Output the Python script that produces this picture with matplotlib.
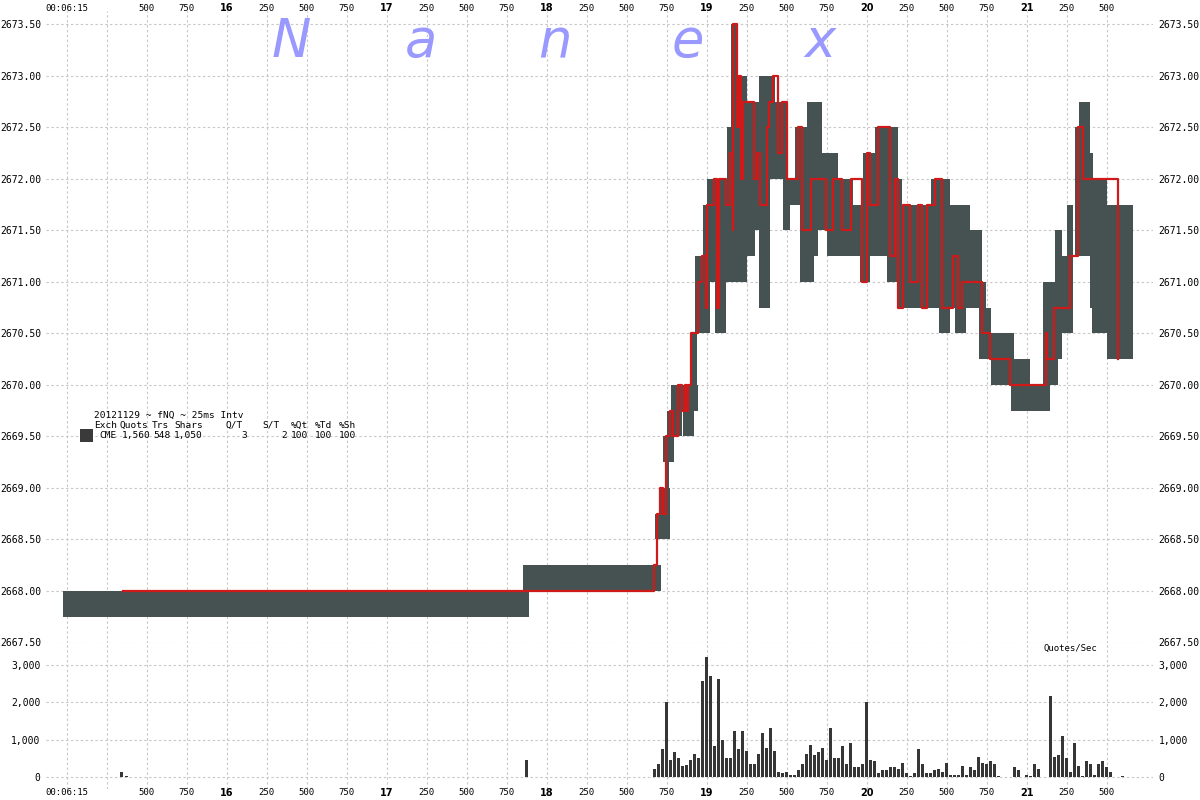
import matplotlib
matplotlib.use("Agg")
import matplotlib.pyplot as plt
from matplotlib.patches import Rectangle

# ---------------- data (times in seconds after 00:06:00) ----------------
box_start = [14.977, 17.852, 18.677, 18.702, 18.727, 18.740, 18.752, 18.777, 18.852, 18.902,
             18.927, 18.977, 19.002, 19.052, 19.125, 19.152, 19.177, 19.252, 19.296, 19.327,
             19.396, 19.427, 19.477, 19.521, 19.552, 19.583, 19.625, 19.671, 19.698, 19.719,
             19.750, 19.819, 19.917, 19.958, 19.979, 20.021, 20.052, 20.125, 20.188, 20.198,
             20.219, 20.402, 20.454, 20.521, 20.552, 20.621, 20.702, 20.746, 20.777, 20.902,
             21.021, 21.104, 21.177, 21.223, 21.250, 21.302, 21.327, 21.396, 21.406, 21.500]
box_end = [17.889, 18.714, 18.771, 18.771, 18.794, 18.765, 18.846, 18.945, 18.921, 18.940,
           19.021, 19.046, 19.127, 19.121, 19.171, 19.190, 19.252, 19.302, 19.327, 19.396,
           19.427, 19.500, 19.521, 19.552, 19.583, 19.625, 19.671, 19.698, 19.719, 19.750,
           19.819, 19.917, 19.958, 19.979, 20.021, 20.052, 20.125, 20.188, 20.198, 20.219,
           20.454, 20.521, 20.521, 20.646, 20.621, 20.719, 20.746, 20.777, 20.923, 21.021,
           21.146, 21.198, 21.223, 21.250, 21.292, 21.327, 21.396, 21.417, 21.500, 21.667]
box_low = [2667.75, 2668.00, 2668.50, 2668.75, 2669.25, 2669.00, 2669.50, 2669.75, 2669.50, 2670.00,
           2670.50, 2671.25, 2671.00, 2670.50, 2671.00, 2671.00, 2671.00, 2671.25, 2671.50, 2670.75,
           2672.00, 2672.00, 2671.50, 2671.75, 2671.75, 2671.00, 2671.00, 2671.25, 2671.50, 2671.50,
           2671.25, 2671.25, 2671.25, 2671.00, 2671.00, 2671.25, 2671.25, 2671.00, 2670.75, 2670.75,
           2670.75, 2670.75, 2670.50, 2670.75, 2670.50, 2670.75, 2670.25, 2670.25, 2670.00, 2669.75,
           2669.75, 2670.00, 2670.25, 2670.50, 2670.50, 2671.25, 2671.25, 2670.75, 2670.50, 2670.25]
box_high = [2668.00, 2668.25, 2668.75, 2669.00, 2669.50, 2669.25, 2669.75, 2670.00, 2669.75, 2670.50,
            2671.25, 2671.75, 2672.00, 2671.25, 2672.50, 2673.50, 2673.00, 2672.75, 2672.75, 2673.00,
            2673.00, 2672.75, 2672.00, 2672.00, 2672.50, 2672.50, 2672.75, 2672.75, 2672.75, 2672.25,
            2672.25, 2672.00, 2671.75, 2671.75, 2672.25, 2672.25, 2672.50, 2672.50, 2672.50, 2672.00,
            2671.75, 2672.00, 2670.75, 2671.75, 2670.75, 2671.50, 2671.00, 2670.75, 2670.50, 2670.25,
            2670.00, 2671.00, 2671.50, 2671.25, 2671.75, 2672.50, 2672.75, 2672.25, 2672.00, 2671.75]

trade_time = [15.352, 18.672, 18.691, 18.708, 18.725, 18.746, 18.771, 18.791, 18.823, 18.844,
              18.864, 18.875, 18.885, 18.902, 18.948, 18.969, 18.994, 19.000, 19.046, 19.066,
              19.075, 19.121, 19.146, 19.162, 19.166, 19.188, 19.200, 19.214, 19.229, 19.296,
              19.316, 19.333, 19.375, 19.392, 19.416, 19.446, 19.469, 19.500, 19.573, 19.594,
              19.650, 19.746, 19.792, 19.848, 19.900, 19.969, 20.000, 20.021, 20.073, 20.146,
              20.177, 20.198, 20.225, 20.271, 20.323, 20.344, 20.375, 20.427, 20.469, 20.541,
              20.573, 20.598, 20.719, 20.771, 20.896, 21.121, 21.125, 21.171, 21.271, 21.323,
              21.350, 21.573]
trade_price = [2668.00, 2668.25, 2668.75, 2669.00, 2668.75, 2669.50, 2669.75, 2669.50, 2670.00, 2669.75,
               2670.00, 2669.75, 2670.00, 2670.50, 2671.00, 2671.25, 2670.75, 2671.75, 2672.00, 2670.75,
               2672.00, 2671.75, 2672.25, 2671.50, 2673.50, 2672.50, 2673.00, 2672.00, 2672.75, 2672.00,
               2672.25, 2671.75, 2672.50, 2672.75, 2673.00, 2672.25, 2672.75, 2672.00, 2672.50, 2671.50,
               2672.00, 2671.50, 2672.00, 2671.50, 2672.00, 2671.00, 2672.25, 2671.75, 2672.50, 2671.25,
               2672.00, 2670.75, 2671.75, 2671.00, 2671.75, 2670.75, 2671.75, 2672.00, 2670.75, 2671.25,
               2670.75, 2671.00, 2670.50, 2670.25, 2670.00, 2670.50, 2670.25, 2670.75, 2671.25, 2672.50,
               2672.00, 2670.25]

# quotes per second, 25 ms buckets
qps_start = 18.676
qps_interval = 0.025
qps_values = [214, 348, 750, 2009, 455, 670, 509, 286, 313, 455,
              607, 509, 2571, 3214, 2705, 830, 2625, 991, 509, 509,
              1232, 750, 1232, 705, 348, 348, 616, 1179, 777, 1312,
              696, 134, 98, 134, 54, 54, 188, 348, 616, 857,
              589, 670, 777, 455, 1312, 509, 509, 830, 348, 911,
              268, 268, 348, 2009, 455, 429, 98, 188, 188, 268,
              268, 214, 375, 107, 27, 107, 750, 348, 107, 107,
              188, 214, 134, 375, 54, 54, 54, 295, 54, 268,
              188, 536, 375, 348, 429, 348, 27, 0, 0, 0,
              268, 188, 0, 54, 27, 348, 214, 0, 0, 2170,
              536, 589, 1098, 509, 134, 911, 295, 36, 429, 348,
              54, 348, 429, 268, 134, 0, 0, 36]
early_qps_time = [15.342, 15.371, 17.872]
early_qps_values = [134, 36, 455]

tick_times = [15.0, 15.25, 15.5, 15.75, 16.0, 16.25, 16.5, 16.75, 17.0, 17.25, 17.5, 17.75,
              18.0, 18.25, 18.5, 18.75, 19.0, 19.25, 19.5, 19.75, 20.0, 20.25, 20.5, 20.75,
              21.0, 21.25, 21.5]
tick_labels = ["00:06:15", "", "500", "750", "16", "250", "500", "750", "17", "250", "500", "750",
               "18", "250", "500", "750", "19", "250", "500", "750", "20", "250", "500", "750",
               "21", "250", "500"]
price_ticks = [2667.5, 2668.0, 2668.5, 2669.0, 2669.5, 2670.0, 2670.5, 2671.0, 2671.5,
               2672.0, 2672.5, 2673.0, 2673.5]
qps_ticks = [0, 1000, 2000, 3000]
qps_tick_labels = ["0", "1,000", "2,000", "3,000"]

legend_title = "20121129 ~ fNQ ~ 25ms Intv"
legend_header = ["Exch", "Quots", "Trs", "Shars", "Q/T", "S/T", "%Qt", "%Td", "%Sh"]
legend_row = ["CME", "1,560", "548", "1,050", "3", "2", "100", "100", "100"]
watermark = ["N", "a", "n", "e", "x"]

# ---------------- styling ----------------
GRAY = "#465252"
RED = "#d01a1a"
BAR = "#363636"
GRID = "#c8c8c8"
MONO = "DejaVu Sans Mono"

W_PX, H_PX = 1200, 800
fig = plt.figure(figsize=(12, 8), dpi=100)
fig.patch.set_facecolor("white")


def fx(px):
    return px / W_PX


def fy(py):
    return 1 - py / H_PX


left, right = 46, 1153
ax1 = fig.add_axes([fx(left), fy(642.5), fx(right - left), (642.5 - 11) / H_PX])
ax2 = fig.add_axes([fx(left), fy(789), fx(right - left), (789 - 642.5) / H_PX])

for ax in (ax1, ax2):
    for s in ax.spines.values():
        s.set_visible(False)
    ax.set_xlim(14.8706, 21.7894)
    ax.set_xticks(tick_times)
    ax.grid(True, color=GRID, linestyle=(0, (2.2, 2.2)), linewidth=0.8)
    ax.set_axisbelow(True)
    ax.tick_params(length=0)
    ax.patch.set_alpha(0)

# price panel
ax1.set_ylim(2667.5, 2673.631)
ax1.set_yticks(price_ticks)
ax1.set_yticklabels([f"{p:.2f}" for p in price_ticks])
ax1.tick_params(axis="y", labelleft=True, labelright=True, labelsize=7, pad=3.5)
ax1.tick_params(axis="x", labeltop=True, labelbottom=False, pad=-1.5)
ax1.set_xticklabels(tick_labels)

widths = [e - s for s, e in zip(box_start, box_end)]
heights = [h - l for l, h in zip(box_low, box_high)]
ax1.bar(box_start, heights, width=widths, bottom=box_low, align="edge",
        color=GRAY, linewidth=0, zorder=2)
ax1.step(trade_time, trade_price, where="post", color=RED, linewidth=1.6, zorder=3)

# quotes panel
ax2.set_ylim(-321, 3603)
ax2.set_yticks(qps_ticks)
ax2.set_yticklabels(qps_tick_labels)
ax2.tick_params(axis="y", labelleft=True, labelright=True, labelsize=7, pad=4)
ax2.tick_params(axis="x", labelbottom=True, pad=-1)
ax2.set_xticklabels(tick_labels)

qps_time = [qps_start + qps_interval * i for i in range(len(qps_values))]
ax2.bar(qps_time, qps_values, width=0.019, color=BAR, linewidth=0, zorder=2)
ax2.bar(early_qps_time, early_qps_values, width=0.019, color=BAR, linewidth=0, zorder=2)

for ax in (ax1, ax2):
    for lbl in ax.get_yticklabels():
        lbl.set_fontfamily(MONO)
    for lbl in ax.get_xticklabels():
        t = lbl.get_text()
        if t.isdigit() and len(t) == 2:
            lbl.set_fontfamily("DejaVu Sans")
            lbl.set_fontweight("bold")
            lbl.set_fontsize(7)
        else:
            lbl.set_fontfamily(MONO)
            lbl.set_fontsize(6.5)

# watermark
for ch, px in zip(watermark, [291, 421, 555, 688, 820]):
    fig.text(fx(px), fy(42), ch, ha="center", va="center", fontsize=38,
             style="italic", color="#9999ff", family="DejaVu Sans", zorder=1)

# legend
LEG = dict(fontsize=6.8, va="center", family=MONO)
fig.text(fx(94.3), fy(415.5), legend_title, ha="left", **LEG)
for tok, px in zip(legend_header, [94.3, 120, 152, 174, 225, 262.7, 291, 315, 339]):
    fig.text(fx(px), fy(425.5), tok, ha="left", **LEG)
row_pos = [99, 122, 153, 174, 246.7, 286.7, 291, 315, 339]
for tok, px in zip(legend_row, row_pos):
    ha = "right" if tok in ("3", "2") else "left"
    fig.text(fx(px), fy(435.3), tok, ha=ha, **LEG)
fig.patches.append(Rectangle((fx(80), fy(441.7)), fx(12.7), 12.4 / H_PX,
                             transform=fig.transFigure, facecolor="#3a3a3a",
                             edgecolor="none", figure=fig))

fig.text(fx(1043.6), fy(648), "Quotes/Sec", fontsize=6.5, va="center", ha="left",
         family=MONO)

fig.savefig("out.png", dpi=100, facecolor="white")
